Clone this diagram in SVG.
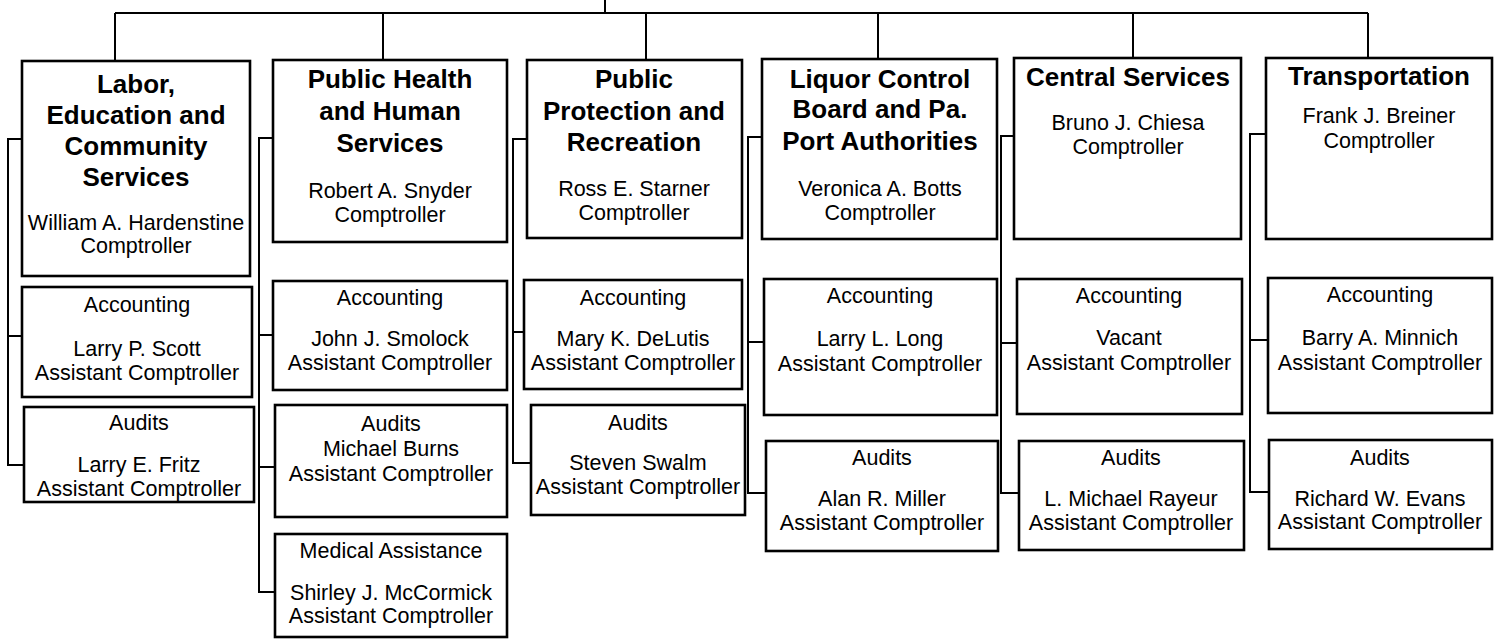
<svg xmlns="http://www.w3.org/2000/svg" width="1499" height="639" viewBox="0 0 1499 639">
<style>
.box{fill:#fff;stroke:#000;stroke-width:2.6}
.ln{fill:none;stroke:#000;stroke-width:2}
text{font-family:"Liberation Sans",Arial,Helvetica,sans-serif;fill:#000;text-anchor:middle}
.t{font-size:26px;font-weight:bold}
.b{font-size:21.5px}
</style>
<rect width="1499" height="639" fill="#fff"/>
<g id="connectors">
<path class="ln" d="M605,0V13M115,13H1368M115,13V61M383,13V60M646,13V60M878,13V59M1133,13V58M1368,13V58"/>
<path class="ln" d="M22,139H8V465H24M8,336H22"/>
<path class="ln" d="M273,138H259V592H275M259,335H273M259,467H275"/>
<path class="ln" d="M527,139H513V463H531M513,332H524"/>
<path class="ln" d="M762,137H748V493H766M748,342H764"/>
<path class="ln" d="M1014,136H1001V493H1019M1001,343H1017"/>
<path class="ln" d="M1266,134H1250V492H1269M1250,340H1268"/>
</g>
<g id="labor">
<rect class="box" x="22" y="61" width="228" height="215"/>
<text class="t" x="136" y="93">Labor,</text>
<text class="t" x="136" y="124">Education and</text>
<text class="t" x="136" y="155">Community</text>
<text class="t" x="136" y="186">Services</text>
<text class="b" x="136" y="230">William A. Hardenstine</text>
<text class="b" x="136" y="253">Comptroller</text>
</g>
<g id="labor-accounting">
<rect class="box" x="22" y="287" width="230" height="110"/>
<text class="b" x="137" y="312">Accounting</text>
<text class="b" x="137" y="356">Larry P. Scott</text>
<text class="b" x="137" y="380">Assistant Comptroller</text>
</g>
<g id="labor-audits">
<rect class="box" x="24" y="407" width="230" height="95"/>
<text class="b" x="139" y="430">Audits</text>
<text class="b" x="139" y="472">Larry E. Fritz</text>
<text class="b" x="139" y="496">Assistant Comptroller</text>
</g>
<g id="health">
<rect class="box" x="273" y="60" width="234" height="182"/>
<text class="t" x="390" y="88">Public Health</text>
<text class="t" x="390" y="120">and Human</text>
<text class="t" x="390" y="152">Services</text>
<text class="b" x="390" y="198">Robert A. Snyder</text>
<text class="b" x="390" y="222">Comptroller</text>
</g>
<g id="health-accounting">
<rect class="box" x="273" y="281" width="234" height="109"/>
<text class="b" x="390" y="305">Accounting</text>
<text class="b" x="390" y="346">John J. Smolock</text>
<text class="b" x="390" y="370">Assistant Comptroller</text>
</g>
<g id="health-audits">
<rect class="box" x="275" y="405" width="232" height="112"/>
<text class="b" x="391" y="431">Audits</text>
<text class="b" x="391" y="456">Michael Burns</text>
<text class="b" x="391" y="481">Assistant Comptroller</text>
</g>
<g id="health-medical">
<rect class="box" x="275" y="534" width="232" height="103"/>
<text class="b" x="391" y="558">Medical Assistance</text>
<text class="b" x="391" y="600">Shirley J. McCormick</text>
<text class="b" x="391" y="623">Assistant Comptroller</text>
</g>
<g id="protection">
<rect class="box" x="527" y="60" width="215" height="178"/>
<text class="t" x="634" y="88">Public</text>
<text class="t" x="634" y="120">Protection and</text>
<text class="t" x="634" y="151">Recreation</text>
<text class="b" x="634" y="196">Ross E. Starner</text>
<text class="b" x="634" y="220">Comptroller</text>
</g>
<g id="protection-accounting">
<rect class="box" x="524" y="280" width="218" height="109"/>
<text class="b" x="633" y="305">Accounting</text>
<text class="b" x="633" y="346">Mary K. DeLutis</text>
<text class="b" x="633" y="370">Assistant Comptroller</text>
</g>
<g id="protection-audits">
<rect class="box" x="531" y="405" width="214" height="110"/>
<text class="b" x="638" y="430">Audits</text>
<text class="b" x="638" y="470">Steven Swalm</text>
<text class="b" x="638" y="494">Assistant Comptroller</text>
</g>
<g id="liquor">
<rect class="box" x="762" y="59" width="235" height="180"/>
<text class="t" x="880" y="88">Liquor Control</text>
<text class="t" x="880" y="118">Board and Pa.</text>
<text class="t" x="880" y="150">Port Authorities</text>
<text class="b" x="880" y="196">Veronica A. Botts</text>
<text class="b" x="880" y="220">Comptroller</text>
</g>
<g id="liquor-accounting">
<rect class="box" x="764" y="279" width="233" height="136"/>
<text class="b" x="880" y="303">Accounting</text>
<text class="b" x="880" y="346">Larry L. Long</text>
<text class="b" x="880" y="371">Assistant Comptroller</text>
</g>
<g id="liquor-audits">
<rect class="box" x="766" y="441" width="232" height="110"/>
<text class="b" x="882" y="465">Audits</text>
<text class="b" x="882" y="506">Alan R. Miller</text>
<text class="b" x="882" y="530">Assistant Comptroller</text>
</g>
<g id="central">
<rect class="box" x="1014" y="58" width="227" height="181"/>
<text class="t" x="1128" y="86">Central Services</text>
<text class="b" x="1128" y="130">Bruno J. Chiesa</text>
<text class="b" x="1128" y="154">Comptroller</text>
</g>
<g id="central-accounting">
<rect class="box" x="1017" y="279" width="225" height="135"/>
<text class="b" x="1129" y="303">Accounting</text>
<text class="b" x="1129" y="345">Vacant</text>
<text class="b" x="1129" y="370">Assistant Comptroller</text>
</g>
<g id="central-audits">
<rect class="box" x="1019" y="441" width="225" height="109"/>
<text class="b" x="1131" y="465">Audits</text>
<text class="b" x="1131" y="506">L. Michael Rayeur</text>
<text class="b" x="1131" y="530">Assistant Comptroller</text>
</g>
<g id="transportation">
<rect class="box" x="1266" y="58" width="226" height="181"/>
<text class="t" x="1379" y="85">Transportation</text>
<text class="b" x="1379" y="123">Frank J. Breiner</text>
<text class="b" x="1379" y="148">Comptroller</text>
</g>
<g id="transportation-accounting">
<rect class="box" x="1268" y="278" width="224" height="135"/>
<text class="b" x="1380" y="302">Accounting</text>
<text class="b" x="1380" y="345">Barry A. Minnich</text>
<text class="b" x="1380" y="370">Assistant Comptroller</text>
</g>
<g id="transportation-audits">
<rect class="box" x="1269" y="440" width="223" height="109"/>
<text class="b" x="1380" y="465">Audits</text>
<text class="b" x="1380" y="506">Richard W. Evans</text>
<text class="b" x="1380" y="529">Assistant Comptroller</text>
</g>
</svg>
